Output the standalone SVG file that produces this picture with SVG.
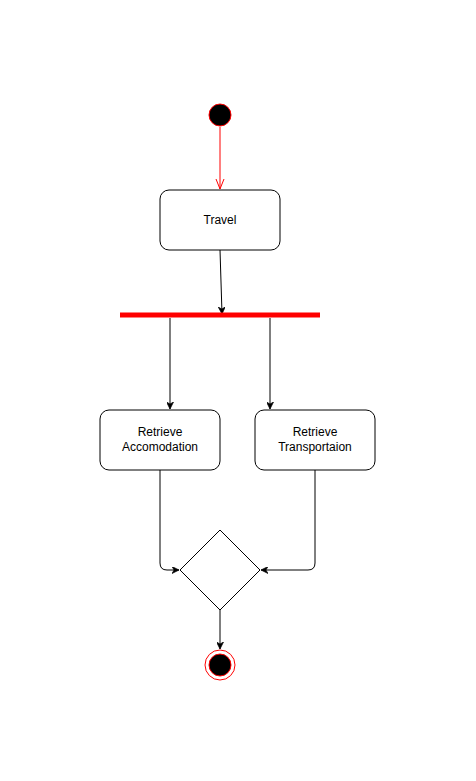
<svg xmlns="http://www.w3.org/2000/svg" width="476" height="781" viewBox="0 0 476 781">
<style>
.box{fill:#fff;stroke:#000;stroke-width:1}
.lbl{font-family:"Liberation Sans",Arial,sans-serif;font-size:12px;fill:#000;text-anchor:middle}
.edge{fill:none;stroke:#000;stroke-width:1}
</style>
<defs>
<marker id="ah" viewBox="0 0 10 10" refX="10" refY="5" markerWidth="7" markerHeight="7" markerUnits="userSpaceOnUse" orient="auto">
<path d="M0,0 L10,5 L0,10 L3,5 Z" fill="#000" stroke="#000" stroke-width="1"/>
</marker>
<marker id="open" viewBox="0 0 10 10" refX="10" refY="5" markerWidth="10" markerHeight="10" markerUnits="userSpaceOnUse" orient="auto">
<path d="M0,1 L10,5 L0,9" fill="none" stroke="#f00" stroke-width="1"/>
</marker>
</defs>
<rect width="476" height="781" fill="#fff"/>
<g id="connectors">
<path d="M220,127 L220,189" fill="none" stroke="#f00" stroke-width="1" marker-end="url(#open)"/>
<path class="edge" d="M220,250 L222,314" marker-end="url(#ah)"/>
<path class="edge" d="M170,318 L170,409" marker-end="url(#ah)"/>
<path class="edge" d="M270,318 L270,409" marker-end="url(#ah)"/>
<path class="edge" d="M160,470 L160,563 Q160,570 167,570 L179,570" marker-end="url(#ah)"/>
<path class="edge" d="M315,470 L315,563 Q315,570 308,570 L261,570" marker-end="url(#ah)"/>
<path class="edge" d="M220,610 L220,649" marker-end="url(#ah)"/>
</g>
<g id="start">
<circle cx="220" cy="115" r="11" fill="#000" stroke="#f00" stroke-width="1"/>
</g>
<g id="travel">
<rect class="box" x="160" y="190" width="120" height="60" rx="9"/>
<text class="lbl" x="220" y="224">Travel</text>
</g>
<g id="fork">
<rect x="120" y="312.5" width="200" height="5" fill="#f00"/>
</g>
<g id="accomodation">
<rect class="box" x="100" y="410" width="120" height="60" rx="9"/>
<text class="lbl" x="160" y="436">Retrieve</text>
<text class="lbl" x="160" y="451">Accomodation</text>
</g>
<g id="transportation">
<rect class="box" x="255" y="410" width="120" height="60" rx="9"/>
<text class="lbl" x="315" y="436">Retrieve</text>
<text class="lbl" x="315" y="451">Transportaion</text>
</g>
<g id="merge">
<path class="box" d="M220,530 L260,570 L220,610 L180,570 Z"/>
</g>
<g id="end">
<circle cx="220" cy="665" r="15" fill="#fff" stroke="#f00" stroke-width="1"/>
<circle cx="220" cy="665" r="11" fill="#000" stroke="#f00" stroke-width="1"/>
</g>
</svg>
